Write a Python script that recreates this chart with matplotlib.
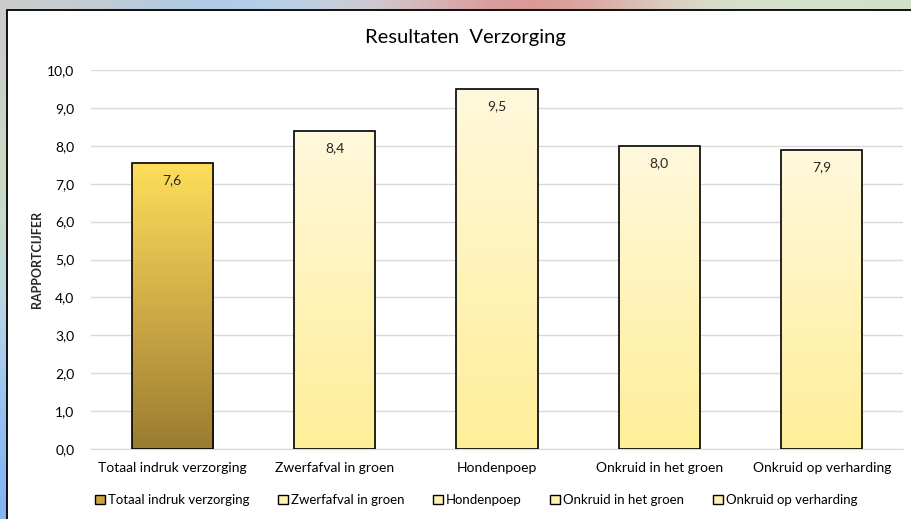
import numpy as np
import matplotlib
matplotlib.use("Agg")
import matplotlib.pyplot as plt
from matplotlib.patches import Rectangle, Patch
from matplotlib.colors import LinearSegmentedColormap

categories = ["Totaal indruk verzorging", "Zwerfafval in groen", "Hondenpoep",
              "Onkruid in het groen", "Onkruid op verharding"]
values = [7.55, 8.4, 9.5, 8.0, 7.9]
labels = ["7,6", "8,4", "9,5", "8,0", "7,9"]
yticks = [0, 1, 2, 3, 4, 5, 6, 7, 8, 9, 10]
ytick_labels = ["0,0", "1,0", "2,0", "3,0", "4,0", "5,0", "6,0", "7,0", "8,0", "9,0", "10,0"]

plt.rcParams['font.family'] = ['Lato', 'DejaVu Sans']

W, H = 912, 519
fig = plt.figure(figsize=(W/100, H/100), dpi=100)
fig.patch.set_facecolor('#c6d6c2')

# blurred background outside the chart panel
bg = fig.add_axes([0, 0, 1, 1], zorder=-10)
bgimg = np.array([
    [[0.80, 0.80, 0.80], [0.62, 0.78, 0.95], [0.85, 0.85, 0.85], [0.85, 0.45, 0.45], [0.86, 0.90, 0.84], [0.82, 0.88, 0.78]],
    [[0.80, 0.88, 0.72], [0.90, 0.90, 0.90], [0.90, 0.90, 0.90], [0.90, 0.90, 0.90], [0.90, 0.90, 0.90], [0.85, 0.90, 0.82]],
    [[0.72, 0.84, 0.95], [0.90, 0.90, 0.90], [0.90, 0.90, 0.90], [0.90, 0.90, 0.90], [0.90, 0.90, 0.90], [0.85, 0.90, 0.82]],
    [[0.50, 0.70, 0.95], [0.90, 0.90, 0.90], [0.90, 0.90, 0.90], [0.90, 0.90, 0.90], [0.90, 0.90, 0.90], [0.85, 0.90, 0.82]],
])
bg.imshow(bgimg, aspect='auto', interpolation='bicubic', extent=[0, 1, 0, 1])
bg.set_axis_off()

# white chart panel with black border
panel = Rectangle((7/W, -0.01), 1.0, (H-10)/H + 0.01, transform=fig.transFigure,
                  facecolor='white', edgecolor='black', linewidth=1.3, zorder=-5)
fig.patches.append(panel)

ax = fig.add_axes([91/W, (H-449)/H, (903-91)/W, (449-70)/H])
ax.set_facecolor('none')
x = np.arange(len(categories))
bars = ax.bar(x, values, width=0.5, color='none', edgecolor='black', linewidth=1.2, zorder=3)

cmap_main = LinearSegmentedColormap.from_list('m', ['#9a7c30', '#d1ac48', '#ffde5a'])
cmap_light = LinearSegmentedColormap.from_list('l', ['#ffee98', '#fff8dc'])
grad = np.linspace(0, 1, 256).reshape(-1, 1)
for i, b in enumerate(bars):
    cm = cmap_main if i == 0 else cmap_light
    im = ax.imshow(grad, cmap=cm, aspect='auto', origin='lower',
                   extent=[b.get_x(), b.get_x() + b.get_width(), 0, b.get_height()],
                   zorder=2, interpolation='bilinear')
    im.set_clip_path(b)

ax.set_xlim(-0.5, len(categories) - 0.5)
ax.set_ylim(0, 10)
ax.set_yticks(yticks)
ax.set_yticklabels(ytick_labels)
ax.set_xticks(x)
ax.set_xticklabels(categories)
ax.tick_params(axis='both', length=0, labelsize=10, colors='#000000')
ax.tick_params(axis='y', pad=12)
ax.tick_params(axis='x', pad=9)
ax.grid(axis='y', color='#d9d9d9', linewidth=1.0, zorder=0)
ax.set_axisbelow(True)
for s in ['top', 'right', 'left']:
    ax.spines[s].set_visible(False)
ax.spines['bottom'].set_color('#d9d9d9')

for b, lab in zip(bars, labels):
    ax.annotate(lab, (b.get_x() + b.get_width()/2, b.get_height()),
                xytext=(0, -8), textcoords='offset points', ha='center', va='top',
                fontsize=10, color='#262626', zorder=5)

ax.set_ylabel('RAPPORTCIJFER', fontsize=9, fontweight='bold', color='#262626')
ax.yaxis.set_label_coords((43-91)/812, 0.5)

fig.text(465/W, (H-38)/H, 'Resultaten  Verzorging', ha='center', va='center', fontsize=14.5, color='black')

handles = [Patch(facecolor='#c9a43f' if i == 0 else '#fff2b0', edgecolor='black', linewidth=1.0)
           for i in range(len(categories))]
fig.legend(handles, categories, loc='center', bbox_to_anchor=(476/W, 19/H), ncol=5,
           frameon=False, fontsize=9.5, handlelength=0.75, handleheight=0.75,
           handletextpad=0.2, columnspacing=2.2)

fig.savefig('out.png', dpi=100)
